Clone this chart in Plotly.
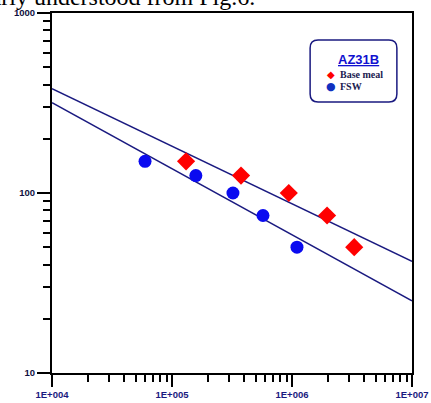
import plotly.graph_objects as go

# Data
base_cycles = [1.31e5, 3.76e5, 9.4e5, 1.96e6, 3.3e6]
base_stress = [150, 125, 100, 75, 50]
fsw_cycles = [5.96e4, 1.58e5, 3.22e5, 5.73e5, 1.1e6]
fsw_stress = [150, 125, 100, 75, 50]
fit_cycles = [1e4, 1e7]
base_fit = [380, 41.7]
fsw_fit = [318, 25.2]
x_tickvals = [1e4, 1e5, 1e6, 1e7]
x_ticktext = ["1E+004", "1E+005", "1E+006", "1E+007"]
y_tickvals = [10, 100, 1000]
y_ticktext = ["10", "100", "1000"]

NAVY = "#1a1a80"
fig = go.Figure()
fig.add_trace(go.Scatter(x=fit_cycles, y=base_fit, mode="lines",
                         line=dict(color=NAVY, width=1.5), showlegend=False))
fig.add_trace(go.Scatter(x=fit_cycles, y=fsw_fit, mode="lines",
                         line=dict(color=NAVY, width=1.5), showlegend=False))
fig.add_trace(go.Scatter(x=base_cycles, y=base_stress, mode="markers", name="Base meal",
                         marker=dict(symbol="diamond", size=14, color="#ff0000",
                                     line=dict(width=0)), showlegend=False))
fig.add_trace(go.Scatter(x=fsw_cycles, y=fsw_stress, mode="markers", name="FSW",
                         marker=dict(symbol="circle", size=13, color="#0a0af0",
                                     line=dict(width=0)), showlegend=False))

fig.update_xaxes(type="log", range=[4, 7], tickvals=x_tickvals, ticktext=x_ticktext,
                 ticks="outside", ticklen=12, tickwidth=2, tickcolor="black",
                 showline=True, linecolor="black", linewidth=2, mirror=True,
                 showgrid=False, zeroline=False, automargin=False,
                 ticklabeloverflow="allow",
                 tickfont=dict(family="Liberation Sans, Arial", size=9.5, color=NAVY,
                               weight="bold"),
                 minor=dict(dtick="D1", ticks="outside", ticklen=7, tickwidth=2,
                            tickcolor="black", showgrid=False))
fig.update_yaxes(type="log", range=[1, 3], tickvals=y_tickvals, ticktext=y_ticktext,
                 ticks="outside", ticklen=13, tickwidth=2, tickcolor="black",
                 showline=True, linecolor="black", linewidth=2, mirror=True,
                 showgrid=False, zeroline=False, automargin=False,
                 ticklabeloverflow="allow",
                 tickfont=dict(family="Liberation Sans, Arial", size=9.5, color="#101040",
                               weight="bold"),
                 minor=dict(dtick="D1", ticks="outside", ticklen=7, tickwidth=2,
                            tickcolor="black", showgrid=False))

# Rounded legend box
x0, x1, y0, y1, r = 0.717, 0.958, 0.753, 0.925, 0.022
path = (f"M{x0+r},{y1} L{x1-r},{y1} Q{x1},{y1} {x1},{y1-r} L{x1},{y0+r} "
        f"Q{x1},{y0} {x1-r},{y0} L{x0+r},{y0} Q{x0},{y0} {x0},{y0+r} "
        f"L{x0},{y1-r} Q{x0},{y1} {x0+r},{y1} Z")
fig.add_shape(type="path", path=path, xref="paper", yref="paper",
              line=dict(color=NAVY, width=1.5), fillcolor="white", layer="above")

def px_x(p):
    return (p - 52) / 360
def px_y(p):
    return 1 - (p - 13) / 360

def note(px, py, text, font, xanchor="center"):
    fig.add_annotation(x=px_x(px), y=px_y(py), xref="paper", yref="paper",
                       xanchor=xanchor, yanchor="middle", text=text,
                       showarrow=False, font=font)

note(358, 60, "<b><u>AZ31B</u></b>",
     dict(family="Liberation Sans, Arial", size=13, color="#1010d0"))
note(331, 74.5, "◆", dict(family="DejaVu Sans", size=10, color="#ff0000"))
note(331, 87, "●", dict(family="DejaVu Sans", size=11, color="#1030c0"))
note(338, 74, "<b>Base meal</b>",
     dict(family="Liberation Serif, Times New Roman", size=10, color="#202050"), "left")
note(338, 87, "<b>FSW</b>",
     dict(family="Liberation Serif, Times New Roman", size=10, color="#202050"), "left")

# Cropped document text at top
note(257, -3, "be clearly understood from Fig.6.",
     dict(family="Liberation Serif, Times New Roman", size=24, color="black"), "right")

fig.update_layout(width=431, height=403, margin=dict(l=52, r=19, t=13, b=30),
                  plot_bgcolor="white", paper_bgcolor="white")
fig.write_html("out.html", config={"displayModeBar": False},
               post_script="document.body.style.margin='0';document.body.style.overflow='hidden';")
